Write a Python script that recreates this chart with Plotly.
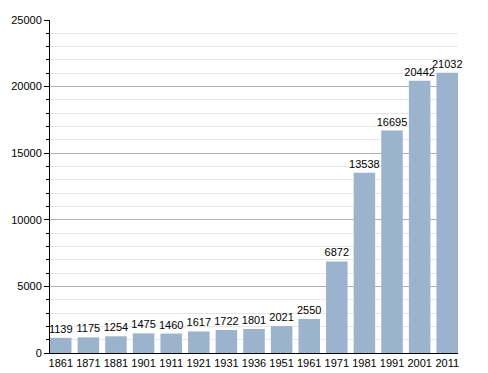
import plotly.graph_objects as go

years = ["1861", "1871", "1881", "1901", "1911", "1921", "1931", "1936",
         "1951", "1961", "1971", "1981", "1991", "2001", "2011"]
population = [1139, 1175, 1254, 1475, 1460, 1617, 1722, 1801,
              2021, 2550, 6872, 13538, 16695, 20442, 21032]
y_ticks = [0, 5000, 10000, 15000, 20000, 25000]

gap = 0.22
fig = go.Figure()
fig.add_trace(go.Bar(
    x=years, y=population,
    marker=dict(color="#9bb3cd", line=dict(width=0)),
    text=[str(v) for v in population],
    textposition="outside",
    constraintext="none",
    textfont=dict(family="Liberation Sans, Arial", size=11, color="#000"),
    cliponaxis=False,
))
fig.update_layout(
    width=480, height=365,
    margin=dict(l=42, r=30, t=12, b=20),
    plot_bgcolor="white", paper_bgcolor="white",
    bargap=gap,
    showlegend=False,
    font=dict(family="Liberation Sans, Arial", size=11, color="#000"),
    xaxis=dict(
        type="category", showline=True, linecolor="#000", linewidth=1,
        range=[-0.5 + gap / 2, len(years) - 0.5 - gap / 2],
        ticks="", showgrid=False, tickfont=dict(size=11), automargin=False,
    ),
    yaxis=dict(
        range=[0, 25000], tickvals=y_ticks, ticktext=[str(v) for v in y_ticks],
        showline=True, linecolor="#000", linewidth=1,
        ticks="outside", ticklen=5, tickcolor="#000",
        showgrid=True, gridcolor="#b0b0b0", gridwidth=1,
        zeroline=False, automargin=False,
        minor=dict(dtick=1000, ticks="outside", ticklen=3, tickcolor="#000",
                   showgrid=True, gridcolor="#e6e6e6"),
        tickfont=dict(size=11),
    ),
)
fig.write_html("out.html")
